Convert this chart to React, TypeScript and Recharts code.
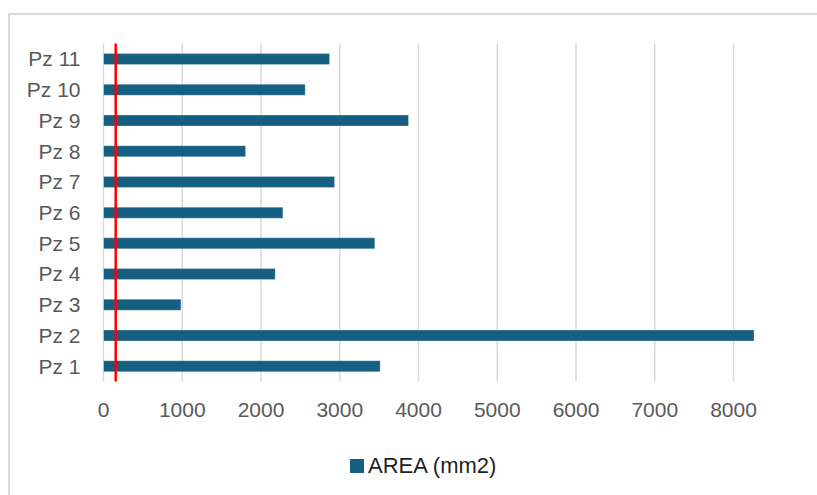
import React from "react";
import { BarChart, Bar, XAxis, YAxis, CartesianGrid, ReferenceLine, Legend } from "recharts";

const categories = ["Pz 1", "Pz 2", "Pz 3", "Pz 4", "Pz 5", "Pz 6", "Pz 7", "Pz 8", "Pz 9", "Pz 10", "Pz 11"];
const areaValues = [3513, 8260, 983, 2180, 3445, 2278, 2934, 1804, 3873, 2561, 2870];
const xTicks = [0, 1000, 2000, 3000, 4000, 5000, 6000, 7000, 8000];
const referenceValue = 155;
const seriesName = "AREA (mm2)";

const data = categories.map((c, i) => ({ name: c, area: areaValues[i] }));

const FONT = "'Liberation Sans', Arial, sans-serif";
const BAR_COLOR = "#156082";

const LegendContent = () => (
  <div style={{ display: "flex", alignItems: "center", fontFamily: FONT, fontSize: 22, color: "#1f1f1f", whiteSpace: "nowrap" }}>
    <span style={{ display: "inline-block", width: 14, height: 14, background: BAR_COLOR, marginRight: 4 }} />
    <span>{seriesName}</span>
  </div>
);

export default function App() {
  return (
    <div style={{ position: "absolute", left: 0, top: 0, width: 817, height: 495, overflow: "hidden", background: "#fff" }}>
      <div
        style={{
          position: "absolute",
          left: 8,
          top: 13,
          width: 830,
          height: 500,
          border: "2px solid #d9d9d9",
          boxSizing: "border-box",
        }}
      />
      <div style={{ position: "absolute", left: 0, top: 0 }}>
        <BarChart
          width={817}
          height={495}
          data={data}
          layout="vertical"
          margin={{ top: 43.6, right: 52, bottom: 73.6, left: 0 }}
          barSize={11}
        >
          <CartesianGrid horizontal={false} stroke="#d9d9d9" strokeWidth={1.5} syncWithTicks />
          <XAxis
            type="number"
            domain={[0, 8400]}
            ticks={xTicks}
            allowDataOverflow
            axisLine={false}
            tickLine={false}
            tickSize={0}
            tickMargin={21}
            height={40}
            tick={{ fill: "#595959", fontSize: 21, fontFamily: FONT }}
            interval={0}
          />
          <YAxis
            type="category"
            dataKey="name"
            reversed
            width={103.5}
            axisLine={false}
            tickLine={false}
            tickSize={0}
            tickMargin={23}
            tick={{ fill: "#595959", fontSize: 21, fontFamily: FONT }}
            interval={0}
          />
          <Bar dataKey="area" name={seriesName} fill={BAR_COLOR} stroke="#ffffff" strokeOpacity={0.35} strokeWidth={0.75} isAnimationActive={false} />
          <ReferenceLine x={referenceValue} stroke="#ff0000" strokeWidth={2.5} />
          <Legend
            layout="horizontal"
            verticalAlign="middle"
            align="center"
            content={<LegendContent />}
            wrapperStyle={{ left: 350, top: 453, width: 220, height: 24 }}
          />
        </BarChart>
      </div>
    </div>
  );
}
